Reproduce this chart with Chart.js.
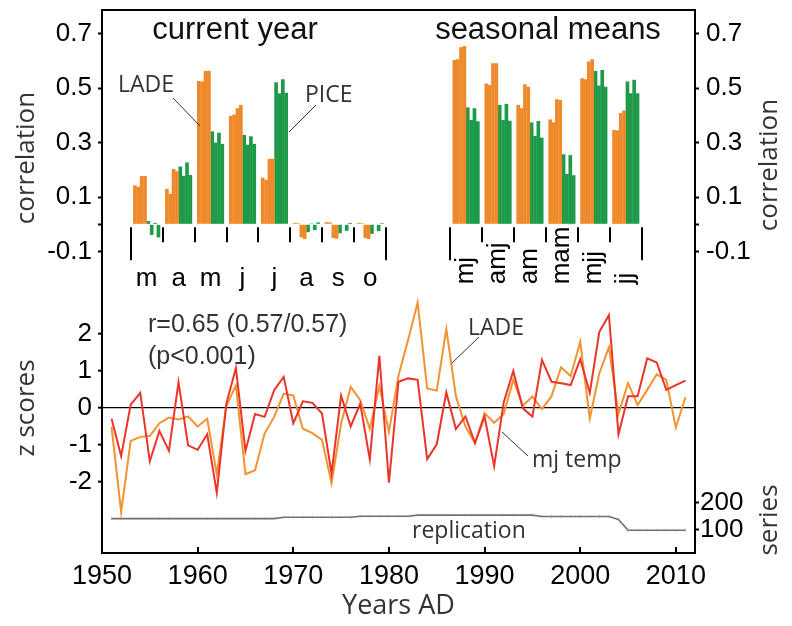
<!DOCTYPE html>
<html>
<head>
<meta charset="utf-8">
<script src="https://cdn.jsdelivr.net/npm/chart.js@4.4.1/dist/chart.umd.min.js"></script>
<style>
  html, body { margin: 0; padding: 0; background: #fff; }
  #wrap { position: relative; width: 792px; height: 626px; overflow: hidden; background: #fff; }
  #wrap canvas { position: absolute; left: 0; top: 0; }
</style>
</head>
<body>
<div id="wrap">
  <canvas id="barCanvas" width="792" height="626"></canvas>
  <canvas id="lineCanvas" width="792" height="626"></canvas>
</div>
<script>
// ---------------- correlation bars ----------------
const monthLabels = ['m', 'a', 'm', 'j', 'j', 'a', 's', 'o'];
const seasonLabels = ['mj', 'amj', 'am', 'mam', 'mjj', 'jj'];

// four LADE and four PICE correlations for every month of the current year
const ladeCurrent = [
  [0.143, 0.138, 0.177, 0.177],
  [0.130, 0.112, 0.203, 0.195],
  [0.526, 0.524, 0.563, 0.563],
  [0.398, 0.403, 0.426, 0.438],
  [0.171, 0.163, 0.240, 0.241],
  [0.005, 0.004, -0.048, -0.054],
  [0.008, 0.007, -0.050, -0.053],
  [0.005, 0.004, -0.050, -0.054]
];
const piceCurrent = [
  [0.012, -0.039, 0.005, -0.048],
  [0.212, 0.178, 0.227, 0.181],
  [0.341, 0.300, 0.336, 0.295],
  [0.328, 0.292, 0.323, 0.295],
  [0.521, 0.481, 0.532, 0.483],
  [-0.029, 0.003, -0.021, 0.007],
  [-0.033, 0.002, -0.024, 0.005],
  [-0.035, 0.002, -0.025, 0.004]
];
// seasonal means
const ladeSeasonal = [
  [0.603, 0.606, 0.650, 0.654],
  [0.517, 0.511, 0.591, 0.591],
  [0.438, 0.426, 0.514, 0.505],
  [0.385, 0.374, 0.459, 0.456],
  [0.536, 0.532, 0.597, 0.606],
  [0.346, 0.345, 0.408, 0.418]
];
const piceSeasonal = [
  [0.429, 0.383, 0.426, 0.378],
  [0.438, 0.383, 0.442, 0.380],
  [0.374, 0.324, 0.379, 0.318],
  [0.257, 0.185, 0.254, 0.180],
  [0.563, 0.509, 0.566, 0.505],
  [0.524, 0.481, 0.530, 0.481]
];
const corrTicks = [0.7, 0.5, 0.3, 0.1, 0, -0.1];
const corrTickLabels = ['0.7', '0.5', '0.3', '0.1', '', '-0.1'];

// ---------------- z-score time series ----------------
const years = [1951, 1952, 1953, 1954, 1955, 1956, 1957, 1958, 1959, 1960,
  1961, 1962, 1963, 1964, 1965, 1966, 1967, 1968, 1969, 1970,
  1971, 1972, 1973, 1974, 1975, 1976, 1977, 1978, 1979, 1980,
  1981, 1982, 1983, 1984, 1985, 1986, 1987, 1988, 1989, 1990,
  1991, 1992, 1993, 1994, 1995, 1996, 1997, 1998, 1999, 2000,
  2001, 2002, 2003, 2004, 2005, 2006, 2007, 2008, 2009, 2010, 2011];
const mjTemp = [-0.29, -1.30, 0.09, 0.41, -1.44, -0.62, -1.16, 0.70, -1.01, -1.13,
  -0.71, -2.29, 0.12, 1.08, -1.16, -0.16, -0.24, 0.48, 0.84, -0.41,
  0.18, 0.14, -0.15, -1.77, 0.34, -0.50, 0.12, -1.39, 1.41, -2.02,
  0.71, 0.80, 0.76, -1.38, -0.98, 0.42, -0.57, -0.23, -0.95, -0.23,
  -1.57, 0.15, 1.00, -0.01, -0.23, 1.30, 0.71, 0.67, 0.62, 1.32,
  0.41, 2.06, 2.51, -0.71, 0.32, 0.32, 1.34, 1.23, 0.49, 0.62, 0.74];
const ladeZ = [-0.51, -2.81, -0.89, -0.78, -0.76, -0.41, -0.26, -0.31, -0.23, -0.50,
  -0.29, -1.79, 0.05, 0.61, -1.79, -1.68, -0.69, -0.24, 0.39, 0.34,
  -0.56, -0.68, -0.86, -2.03, -0.42, 0.57, 0.21, -0.56, 0.59, -0.65,
  0.88, 1.84, 2.85, 0.53, 0.47, 2.14, 0.32, -0.50, -0.95, -0.14,
  -0.40, -0.16, 0.76, 0.06, 0.31, -0.03, 0.32, 1.10, 0.86, 1.79,
  -0.28, 0.94, 1.64, -0.16, 0.67, 0.08, 0.49, 0.91, 0.76, -0.53, 0.29];
// number of series contributing to the chronology
const replication = [142, 142, 142, 142, 142, 142, 142, 142, 142, 142,
  142, 142, 142, 142, 142, 142, 142, 142, 147, 147,
  147, 147, 147, 147, 147, 147, 151, 151, 151, 151,
  151, 151, 155, 155, 155, 155, 155, 155, 155, 155,
  155, 155, 155, 155, 155, 150, 150, 150, 150, 150,
  150, 150, 150, 139, 99, 99, 99, 99, 99, 99, 99];
const yearTicks = [1950, 1960, 1970, 1980, 1990, 2000, 2010];
const zTicks = [2, 1, 0, -1, -2];
const zTickLabels = ['2', '1', '0', '-1', '-2'];
const seriesTicks = [200, 100];
const seriesTickLabels = ['200', '100'];

// ---------------- styling ----------------
const ARIAL = '"Liberation Sans", Arial, Helvetica, sans-serif';
const HUMAN = '"Open Sans", "Noto Sans", sans-serif';
const ORANGE = '#EF8A2C';
const GREEN = '#1F9A4A';
const tickFont = { family: ARIAL, size: 26 };
const seasonStart = monthLabels.length + 2;   // two empty slots between the panels

function fixWidth(w) {
  return (s) => { s.width = w; s.paddingTop = 0; s.paddingBottom = 0; s.paddingLeft = 0; s.paddingRight = 0; };
}
function fixHeight(h) {
  return (s) => { s.height = h; s.paddingTop = 0; s.paddingBottom = 0; s.paddingLeft = 0; s.paddingRight = 0; };
}

// ---------------- bar chart (top panels) ----------------
function barData(current, seasonal, b) {
  return monthLabels.map((m, i) => ({ x: i, y: current[i][b] }))
    .concat(seasonLabels.map((s, i) => ({ x: seasonStart + i, y: seasonal[i][b] })));
}
const barDatasets = [];
for (let b = 0; b < 4; b++) {
  barDatasets.push({ label: 'LADE ' + (b + 1), data: barData(ladeCurrent, ladeSeasonal, b),
    backgroundColor: ORANGE, borderWidth: 0 });
}
for (let b = 0; b < 4; b++) {
  barDatasets.push({ label: 'PICE ' + (b + 1), data: barData(piceCurrent, piceSeasonal, b),
    backgroundColor: GREEN, borderWidth: 0 });
}

const groupAxisPlugin = {
  id: 'groupAxis',
  afterDraw(chart) {
    const { ctx, scales: { x, y } } = chart;
    const base = y.getPixelForValue(0);
    ctx.save();
    ctx.strokeStyle = '#000';
    ctx.lineWidth = 2;
    [[0, monthLabels.length], [seasonStart, seasonLabels.length]].forEach(([start, n]) => {
      for (let i = 0; i <= n; i++) {
        const px = Math.round(x.getPixelForValue(start + i - 0.5));
        const long = (i === 0 || i === n);
        ctx.beginPath();
        ctx.moveTo(px, base + 3);
        ctx.lineTo(px, base + (long ? 36 : 18));
        ctx.stroke();
      }
    });
    ctx.fillStyle = '#000';
    ctx.font = '26px ' + ARIAL;
    ctx.textAlign = 'center';
    ctx.textBaseline = 'alphabetic';
    monthLabels.forEach((m, i) => ctx.fillText(m, x.getPixelForValue(i), base + 62));
    seasonLabels.forEach((s, i) => {
      ctx.save();
      ctx.translate(x.getPixelForValue(seasonStart + i), base + 60);
      ctx.rotate(-Math.PI / 2);
      ctx.textAlign = 'left';
      ctx.textBaseline = 'middle';
      ctx.fillText(s, 0, 0);
      ctx.restore();
    });
    // panel titles and bar labels
    ctx.font = '31px ' + ARIAL;
    ctx.fillStyle = '#111';
    ctx.textAlign = 'center';
    ctx.fillText('current year', 235, 39);
    ctx.fillText('seasonal means', 548, 39);
    ctx.font = '23px ' + HUMAN;
    ctx.fillStyle = '#333';
    ctx.textAlign = 'left';
    ctx.fillText('LADE', 118, 92);
    ctx.fillText('PICE', 305, 102);
    ctx.strokeStyle = '#333';
    ctx.lineWidth = 1;
    ctx.beginPath(); ctx.moveTo(173, 98); ctx.lineTo(200, 126); ctx.stroke();
    ctx.beginPath(); ctx.moveTo(316, 105); ctx.lineTo(289, 132); ctx.stroke();
    ctx.restore();
  }
};

const corrAxis = (pos, pad, w) => ({
  type: 'linear', position: pos, min: -1.2062, max: 0.7864,
  afterBuildTicks: (s) => { s.ticks = corrTicks.map(v => ({ value: v })); },
  ticks: { font: tickFont, color: '#000', padding: pad,
    callback: (v, i) => corrTickLabels[i] },
  grid: { drawOnChartArea: false, tickLength: 4, tickWidth: 2, tickColor: '#000' },
  border: { display: true, color: '#000', width: 2 },
  afterFit: fixWidth(w)
});

new Chart(document.getElementById('barCanvas'), {
  type: 'bar',
  data: { datasets: barDatasets },
  options: {
    responsive: false, animation: false, devicePixelRatio: 1,
    layout: { autoPadding: false, padding: { top: 10, bottom: 73, left: 0, right: 0 } },
    plugins: { legend: { display: false }, tooltip: { enabled: false } },
    datasets: { bar: { categoryPercentage: 0.84, barPercentage: 1.1 } },
    scales: {
      x: { type: 'linear', display: false, offset: false, min: -1.399, max: 17.167,
        grid: { offset: false },
        afterBuildTicks: (s) => {
          s.ticks = monthLabels.map((m, i) => ({ value: i }))
            .concat(seasonLabels.map((m, i) => ({ value: seasonStart + i })));
        } },
      y: corrAxis('left', 6, 102),
      y2: corrAxis('right', 7, 97)
    }
  },
  plugins: [groupAxisPlugin]
});

// ---------------- line chart (lower panel) ----------------
const annotatePlugin = {
  id: 'annotate',
  afterDraw(chart) {
    const { ctx, chartArea: a, scales: { x, yS } } = chart;
    ctx.save();
    // inward year ticks
    ctx.strokeStyle = '#000';
    ctx.lineWidth = 2;
    yearTicks.forEach(v => {
      if (v <= x.min) return;
      const px = Math.round(x.getPixelForValue(v));
      ctx.beginPath(); ctx.moveTo(px, a.bottom); ctx.lineTo(px, a.bottom - 6); ctx.stroke();
    });
    // frame
    ctx.strokeRect(a.left, a.top, a.right - a.left, a.bottom - a.top);

    ctx.fillStyle = '#333';
    ctx.font = '25px ' + ARIAL;
    ctx.textAlign = 'left';
    ctx.textBaseline = 'alphabetic';
    ctx.fillText('r=0.65 (0.57/0.57)', 148, 332);
    ctx.fillText('(p<0.001)', 148, 364);

    ctx.font = '23px ' + HUMAN;
    ctx.fillText('LADE', 468, 335);
    ctx.fillText('mj temp', 532, 467);
    ctx.fillText('replication', 412, yS.getPixelForValue(100) + 8);
    ctx.strokeStyle = '#333';
    ctx.lineWidth = 1;
    ctx.beginPath(); ctx.moveTo(479, 337); ctx.lineTo(452, 363); ctx.stroke();
    ctx.beginPath(); ctx.moveTo(528, 456); ctx.lineTo(502, 432); ctx.stroke();

    // axis titles
    ctx.font = '27px ' + HUMAN;
    ctx.textAlign = 'center';
    ctx.textBaseline = 'middle';
    ctx.fillText('Years AD', (a.left + a.right) / 2, 606);
    ctx.font = '26px ' + HUMAN;
    [['correlation', 27, 158], ['z scores', 27, 408], ['correlation', 770, 165], ['series', 770, 520]]
      .forEach(([t, cx, cy]) => {
        ctx.save();
        ctx.translate(cx, cy);
        ctx.rotate(-Math.PI / 2);
        ctx.fillText(t, 0, 0);
        ctx.restore();
      });
    ctx.restore();
  }
};

new Chart(document.getElementById('lineCanvas'), {
  type: 'line',
  data: {
    datasets: [
      { label: 'mj temp', data: years.map((yr, i) => ({ x: yr, y: mjTemp[i] })),
        borderColor: '#E9352A', borderWidth: 2, pointRadius: 0, tension: 0, yAxisID: 'y' },
      { label: 'LADE', data: years.map((yr, i) => ({ x: yr, y: ladeZ[i] })),
        borderColor: '#F39230', borderWidth: 2, pointRadius: 0, tension: 0, yAxisID: 'y' },
      { label: 'replication', data: years.map((yr, i) => ({ x: yr, y: replication[i] })),
        borderColor: '#6f6f6f', borderWidth: 1.6, tension: 0, yAxisID: 'yS',
        pointStyle: 'line', pointRotation: 90, pointRadius: 1.5, pointBorderWidth: 0.8,
        pointBorderColor: '#9a9a9a' }
    ]
  },
  options: {
    responsive: false, animation: false, devicePixelRatio: 1,
    layout: { autoPadding: false, padding: { top: 10, bottom: 0, left: 0, right: 0 } },
    plugins: { legend: { display: false }, tooltip: { enabled: false } },
    scales: {
      x: { type: 'linear', position: 'bottom', min: 1950, max: 2012,
        afterBuildTicks: (s) => { s.ticks = yearTicks.map(v => ({ value: v })); },
        ticks: { font: { family: ARIAL, size: 27 }, color: '#000', padding: 7, maxRotation: 0, autoSkip: false,
          callback: (v) => String(v) },
        grid: { display: false, drawTicks: false },
        border: { display: true, color: '#000', width: 2 },
        afterFit: fixHeight(73) },
      y: { type: 'linear', position: 'left', min: -3.919, max: 10.757,
        afterBuildTicks: (s) => { s.ticks = zTicks.map(v => ({ value: v })); },
        ticks: { font: tickFont, color: '#000', padding: 6, callback: (v, i) => zTickLabels[i] },
        grid: { drawOnChartArea: true, lineWidth: 1.3, tickLength: 4, tickWidth: 2, tickColor: '#000',
          color: (c) => (c.tick && c.tick.value === 0) ? '#000' : 'rgba(0,0,0,0)' },
        border: { display: true, color: '#000', width: 2 },
        afterFit: fixWidth(102) },
      yS: { type: 'linear', position: 'right', min: 14.8, max: 2025.9,
        afterBuildTicks: (s) => { s.ticks = seriesTicks.map(v => ({ value: v })); },
        ticks: { font: tickFont, color: '#000', padding: 1, callback: (v, i) => seriesTickLabels[i] },
        grid: { drawOnChartArea: false, tickLength: 4, tickWidth: 2, tickColor: '#000' },
        border: { display: true, color: '#000', width: 2 },
        afterFit: fixWidth(97) }
    }
  },
  plugins: [annotatePlugin]
});
</script>
</body>
</html>
